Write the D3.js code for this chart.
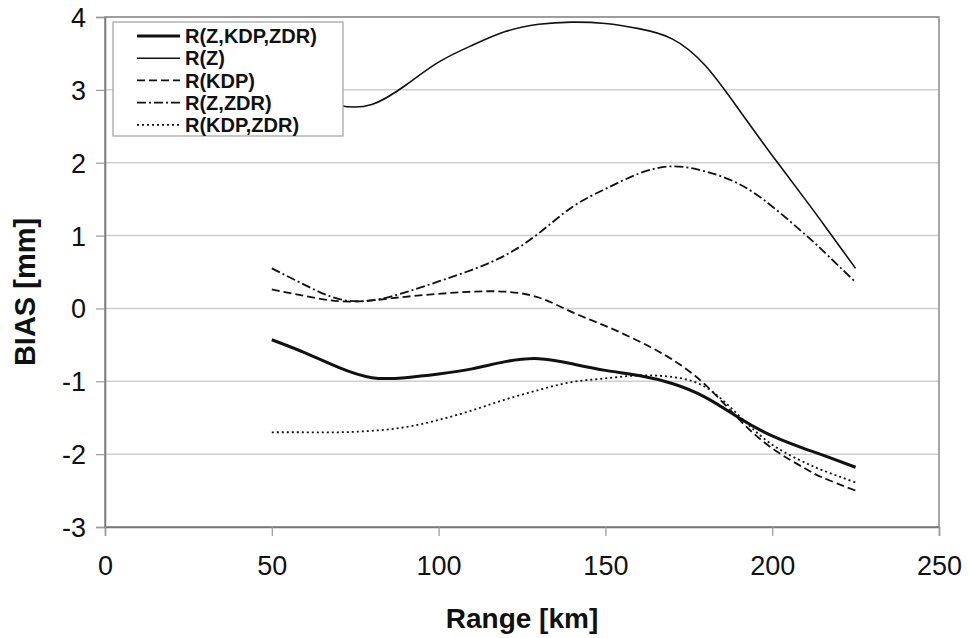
<!DOCTYPE html>
<html>
<head>
<meta charset="utf-8">
<script src="https://cdn.jsdelivr.net/npm/d3@7"></script>
<style>
  html, body { margin: 0; padding: 0; background: #ffffff; }
  svg { display: block; }
  text { font-family: "Liberation Sans", Arial, Helvetica, sans-serif; fill: #111; }
</style>
</head>
<body>
<svg id="chart" width="969" height="638"></svg>
<script>
// ---- Data ----
const ranges = [50, 60, 70, 80, 90, 100, 110, 120, 130, 140, 150, 160, 170, 180, 190, 200, 210, 215, 225];
const seriesNames = ["R(Z,KDP,ZDR)", "R(Z)", "R(KDP)", "R(Z,ZDR)", "R(KDP,ZDR)"];
const biasZKdpZdr = [-0.43, -0.61, -0.81, -0.95, -0.95, -0.90, -0.83, -0.73, -0.69, -0.76, -0.85, -0.92, -1.03, -1.22, -1.50, -1.75, -1.93, -2.01, -2.18];
const biasZ       = [3.12, 2.95, 2.79, 2.80, 3.06, 3.38, 3.61, 3.80, 3.90, 3.93, 3.91, 3.84, 3.70, 3.33, 2.73, 2.10, 1.49, 1.18, 0.55];
const biasKdp     = [0.26, 0.17, 0.10, 0.11, 0.16, 0.20, 0.23, 0.23, 0.15, -0.05, -0.24, -0.45, -0.70, -1.05, -1.52, -1.92, -2.20, -2.32, -2.50];
const biasZZdr    = [0.55, 0.32, 0.13, 0.11, 0.22, 0.37, 0.53, 0.73, 1.03, 1.39, 1.64, 1.85, 1.95, 1.88, 1.71, 1.40, 1.01, 0.80, 0.36];
const biasKdpZdr  = [-1.70, -1.70, -1.70, -1.68, -1.63, -1.53, -1.40, -1.25, -1.12, -1.01, -0.96, -0.92, -0.94, -1.08, -1.47, -1.87, -2.12, -2.22, -2.39];
const xTicks = [0, 50, 100, 150, 200, 250];
const yTicks = [-3, -2, -1, 0, 1, 2, 3, 4];
const xTitle = "Range [km]";
const yTitle = "BIAS [mm]";

// ---- Styles (kept separate from data) ----
const styles = [
  { width: 3.0, dash: null },
  { width: 1.6, dash: null },
  { width: 1.8, dash: "8,4" },
  { width: 1.8, dash: "9,3,2,3" },
  { width: 1.8, dash: "2,3" }
];
const allSeries = [biasZKdpZdr, biasZ, biasKdp, biasZZdr, biasKdpZdr];

const svg = d3.select("#chart");
const plot = { left: 105, right: 939, top: 17, bottom: 527 };

const x = d3.scaleLinear().domain([0, 250]).range([plot.left, plot.right]);
const y = d3.scaleLinear().domain([-3, 4]).range([plot.bottom, plot.top]);

// gridlines
svg.append("g")
  .selectAll("line")
  .data(yTicks)
  .join("line")
  .attr("x1", plot.left).attr("x2", plot.right)
  .attr("y1", d => y(d)).attr("y2", d => y(d))
  .attr("stroke", "#cfcfcf").attr("stroke-width", 1.5);

// plot border
svg.append("rect")
  .attr("x", plot.left).attr("y", plot.top)
  .attr("width", plot.right - plot.left).attr("height", plot.bottom - plot.top)
  .attr("fill", "none").attr("stroke", "#8a8a8a").attr("stroke-width", 1.5);

// axes
const fmt = d => String(d);
const yAxis = d3.axisLeft(y).tickValues(yTicks).tickSize(9).tickPadding(10).tickFormat(fmt);
const xAxis = d3.axisBottom(x).tickValues(xTicks).tickSize(9).tickPadding(20).tickFormat(fmt);

const gy = svg.append("g").attr("transform", `translate(${plot.left},0)`).call(yAxis);
const gx = svg.append("g").attr("transform", `translate(0,${plot.bottom})`).call(xAxis);
[gx, gy].forEach(g => {
  g.select(".domain").attr("stroke", "#777").attr("stroke-width", 1.5);
  g.selectAll(".tick line").attr("stroke", "#999").attr("stroke-width", 1.2);
  g.selectAll(".tick text")
    .attr("font-size", 27)
    .attr("font-family", "'Liberation Sans', Arial, sans-serif")
    .attr("fill", "#111");
});
gy.selectAll(".tick text").attr("dy", "0.35em");

// axis titles
svg.append("text")
  .attr("x", (plot.left + plot.right) / 2)
  .attr("y", 628)
  .attr("text-anchor", "middle")
  .attr("font-size", 28)
  .attr("font-weight", "bold")
  .text(xTitle);

svg.append("text")
  .attr("transform", `translate(35, ${(plot.top + plot.bottom) / 2 + 20}) rotate(-90)`)
  .attr("text-anchor", "middle")
  .attr("font-size", 29)
  .attr("font-weight", "bold")
  .text(yTitle);

// lines
const line = d3.line()
  .x((d, i) => x(ranges[i]))
  .y(d => y(d))
  .curve(d3.curveNatural);

svg.append("g")
  .selectAll("path")
  .data(allSeries)
  .join("path")
  .attr("d", d => line(d))
  .attr("fill", "none")
  .attr("stroke", "#111")
  .attr("stroke-width", (d, i) => styles[i].width)
  .attr("stroke-dasharray", (d, i) => styles[i].dash)
  .attr("stroke-linejoin", "round");

// legend
const legend = svg.append("g");
legend.append("rect")
  .attr("x", 113).attr("y", 22)
  .attr("width", 230).attr("height", 114)
  .attr("fill", "#ffffff")
  .attr("stroke", "#a0a0a0").attr("stroke-width", 1.2);

const rowY = i => 36 + i * 22.2;
legend.selectAll("line.leg")
  .data(seriesNames)
  .join("line")
  .attr("class", "leg")
  .attr("x1", 137).attr("x2", 180)
  .attr("y1", (d, i) => rowY(i)).attr("y2", (d, i) => rowY(i))
  .attr("stroke", "#111")
  .attr("stroke-width", (d, i) => styles[i].width)
  .attr("stroke-dasharray", (d, i) => styles[i].dash);

legend.selectAll("text.leg")
  .data(seriesNames)
  .join("text")
  .attr("class", "leg")
  .attr("x", 185)
  .attr("y", (d, i) => rowY(i))
  .attr("dy", "0.36em")
  .attr("font-size", 20)
  .attr("font-weight", "bold")
  .text(d => d);
</script>
</body>
</html>
